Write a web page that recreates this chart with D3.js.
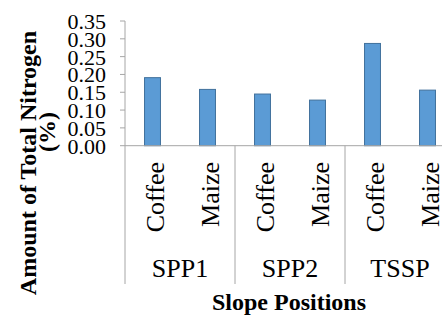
<!doctype html>
<html>
  <head>
    <script src="https://cdn.jsdelivr.net/npm/d3@7/dist/d3.min.js"></script>
    <style>
      body { margin: 0; background: #fff; }
      .axis line { stroke: #a6a6a6; }
      .bar { fill: #5b9bd5; stroke: #41719c; stroke-width: 1; }
    </style>
  </head>
  <body>
    <svg width="442" height="316"></svg>
    <script>
      // data
      var groups = ["SPP1", "SPP2", "TSSP"];
      var crops = ["Coffee", "Maize"];
      var values = [0.191, 0.158, 0.145, 0.128, 0.287, 0.156];
      var yTicks = [0, 0.05, 0.10, 0.15, 0.20, 0.25, 0.30, 0.35];

      var cats = [];
      groups.forEach(g => crops.forEach(c => cats.push({group: g, crop: c})));
      cats.forEach((d, i) => d.value = values[i]);

      var svg = d3.select("svg");
      var font = "Liberation Serif";
      var plotLeft = 125, plotBottom = 145.7, plotTop = 21;

      var x = d3.scaleBand()
        .domain(cats.map((d, i) => i))
        .range([plotLeft, plotLeft + 330])
        .padding(0);

      var y = d3.scaleLinear()
        .domain([0, 0.35])
        .range([plotBottom, plotTop]);

      // y axis
      var yAxis = svg.append("g").attr("class", "axis");
      yAxis.append("line")
        .attr("x1", plotLeft).attr("x2", plotLeft)
        .attr("y1", plotTop).attr("y2", 284);
      yAxis.selectAll("line.tick")
        .data(yTicks)
        .enter()
        .append("line")
          .attr("class", "tick")
          .attr("x1", plotLeft - 5).attr("x2", plotLeft)
          .attr("y1", d => y(d)).attr("y2", d => y(d));
      yAxis.selectAll("text")
        .data(yTicks)
        .enter()
        .append("text")
          .attr("x", 106)
          .attr("y", d => y(d))
          .attr("dy", "0.36em")
          .attr("font-family", font)
          .attr("font-size", 22)
          .style("text-anchor", "end")
          .text(d => d.toFixed(2));

      // bars
      var bw = x.bandwidth() * 0.29;
      svg.selectAll("rect.bar")
        .data(cats)
        .enter()
        .append("rect")
          .attr("class", "bar")
          .attr("x", (d, i) => x(i) + (x.bandwidth() - bw) / 2)
          .attr("width", bw)
          .attr("y", d => y(d.value))
          .attr("height", d => y(0) - y(d.value));

      // x axis
      var xAxis = svg.append("g").attr("class", "axis");
      xAxis.append("line")
        .attr("x1", plotLeft).attr("x2", 442)
        .attr("y1", plotBottom).attr("y2", plotBottom);
      xAxis.selectAll("line.sep")
        .data(groups.slice(1))
        .enter()
        .append("line")
          .attr("class", "sep")
          .attr("x1", (d, i) => x((i + 1) * 2)).attr("x2", (d, i) => x((i + 1) * 2))
          .attr("y1", plotBottom).attr("y2", 284);

      svg.selectAll("text.crop")
        .data(cats)
        .enter()
        .append("text")
          .attr("class", "crop")
          .attr("transform", (d, i) => `translate(${x(i) + x.bandwidth() / 2 + 11},162) rotate(-90)`)
          .attr("font-family", font)
          .attr("font-size", 26)
          .style("text-anchor", "end")
          .text(d => d.crop);

      svg.selectAll("text.group")
        .data(groups)
        .enter()
        .append("text")
          .attr("class", "group")
          .attr("x", (d, i) => x(i * 2) + x.bandwidth())
          .attr("y", 277)
          .attr("font-family", font)
          .attr("font-size", 26)
          .style("text-anchor", "middle")
          .text(d => d);

      // titles
      svg.append("text")
        .attr("x", 289).attr("y", 310)
        .attr("font-family", font)
        .attr("font-size", 24)
        .attr("font-weight", "bold")
        .style("text-anchor", "middle")
        .text("Slope Positions");

      svg.append("text")
        .attr("transform", "translate(36,163) rotate(-90)")
        .attr("font-family", font)
        .attr("font-size", 24)
        .attr("font-weight", "bold")
        .style("text-anchor", "middle")
        .text("Amount of Total Nitrogen");
      svg.append("text")
        .attr("transform", "translate(55,132) rotate(-90)")
        .attr("font-family", font)
        .attr("font-size", 24)
        .attr("font-weight", "bold")
        .style("text-anchor", "middle")
        .text("(%)");
    </script>
  </body>
</html>
